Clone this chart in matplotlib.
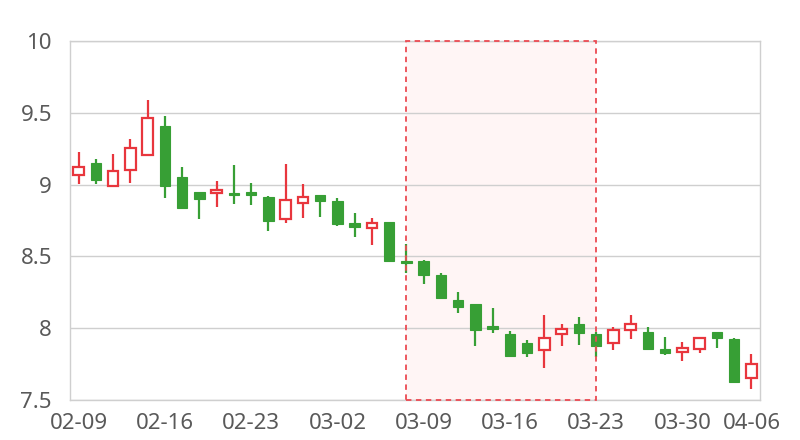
import numpy as np
from matplotlib import pyplot as plt
from matplotlib.patches import Rectangle

# Datas (pregões) e valores OHLC
dates = ['02-09', '02-10', '02-11', '02-12', '02-13',
         '02-16', '02-17', '02-18', '02-19', '02-20',
         '02-23', '02-24', '02-25', '02-26', '02-27',
         '03-02', '03-03', '03-04', '03-05', '03-06',
         '03-09', '03-10', '03-11', '03-12', '03-13',
         '03-16', '03-17', '03-18', '03-19', '03-20',
         '03-23', '03-24', '03-25', '03-26', '03-27',
         '03-30', '03-31', '04-01', '04-02', '04-06']

opens = [9.07, 9.148, 8.99, 9.101, 9.204, 9.407, 9.056, 8.947, 8.942, 8.942,
         8.947, 8.917, 8.759, 8.872, 8.931, 8.889, 8.736, 8.701, 8.74, 8.467,
         8.471, 8.369, 8.197, 8.169, 8.018, 7.958, 7.898, 7.85, 7.96, 8.03,
         7.962, 7.9, 7.99, 7.976, 7.856, 7.837, 7.858, 7.976, 7.928, 7.65]
closes = [9.125, 9.03, 9.097, 9.254, 9.465, 8.988, 8.84, 8.90, 8.965, 8.928,
          8.928, 8.747, 8.896, 8.914, 8.889, 8.724, 8.708, 8.736, 8.467, 8.451,
          8.369, 8.207, 8.15, 7.988, 7.997, 7.807, 7.828, 7.935, 7.995, 7.969,
          7.877, 7.986, 8.028, 7.858, 7.826, 7.863, 7.935, 7.93, 7.625, 7.754]
highs = [9.224, 9.18, 9.21, 9.32, 9.59, 9.48, 9.12, 8.947, 9.023, 9.134,
         9.014, 8.924, 9.141, 9.002, 8.931, 8.91, 8.799, 8.77, 8.74, 8.585,
         8.478, 8.382, 8.25, 8.169, 8.141, 7.981, 7.921, 8.092, 8.032, 8.08,
         7.974, 8.011, 8.092, 8.011, 7.942, 7.903, 7.935, 7.976, 7.93, 7.82]
lows = [9.004, 9.005, 8.99, 9.014, 9.2, 8.907, 8.84, 8.757, 8.844, 8.868,
        8.856, 8.676, 8.736, 8.764, 8.775, 8.715, 8.632, 8.58, 8.46, 8.387,
        8.305, 8.2, 8.104, 7.875, 7.965, 7.802, 7.802, 7.722, 7.875, 7.884,
        7.802, 7.845, 7.924, 7.845, 7.816, 7.773, 7.83, 7.865, 7.616, 7.575]

# Intervalo destacado (índices das datas)
hl_start, hl_end = 19, 30

tick_idx = [0, 5, 10, 15, 20, 25, 30, 35, 39]
y_ticks = [7.5, 8, 8.5, 9, 9.5, 10]

red = '#e8363d'
green = '#379f35'
gray_txt = '#595959'
grid_c = '#cfcfcf'

plt.rcParams['font.family'] = ['Noto Sans', 'DejaVu Sans']

fig = plt.figure(figsize = (8, 4.4), dpi = 100)
ax = fig.add_axes([70 / 800, 1 - 400 / 440, 690 / 800, 359 / 440])

x = np.arange(len(dates))
o = np.array(opens)
c = np.array(closes)
up = c >= o

# Área destacada
ax.add_patch(Rectangle((hl_start, 7.5), hl_end - hl_start, 2.5,
                       facecolor = '#fff5f5', edgecolor = 'none', zorder = 0))
ax.add_patch(Rectangle((hl_start, 7.5), hl_end - hl_start, 2.5,
                       facecolor = 'none', edgecolor = '#ec4a52', linewidth = 1.3,
                       linestyle = (0, (3, 2.5)), zorder = 5, clip_on = False))

# Pavios
colors = [red if u else green for u in up]
ax.vlines(x, lows, highs, colors = colors, linewidth = 1.6, zorder = 2)

# Corpos
body_h = np.maximum(np.abs(c - o), 0.012)
bottoms = np.minimum(o, c)
ax.bar(x[up], body_h[up], bottom = bottoms[up], width = 0.62,
       facecolor = 'white', edgecolor = red, linewidth = 1.6, zorder = 3)
ax.bar(x[~up], body_h[~up], bottom = bottoms[~up], width = 0.62,
       facecolor = green, edgecolor = green, linewidth = 0.8, zorder = 3)

ax.set_xlim(-0.5, len(dates) - 0.5)
ax.set_ylim(7.5, 10)
ax.set_xticks(tick_idx)
ax.set_xticklabels([dates[i] for i in tick_idx])
ax.set_yticks(y_ticks)
ax.set_yticklabels(['7.5', '8', '8.5', '9', '9.5', '10'])

ax.yaxis.grid(True, color = grid_c, linewidth = 1)
ax.set_axisbelow(True)
for s in ax.spines.values():
    s.set_color(grid_c)
    s.set_linewidth(1)

ax.tick_params(axis = 'both', length = 0, labelsize = 16, labelcolor = gray_txt)
ax.tick_params(axis = 'y', pad = 13)
ax.tick_params(axis = 'x', pad = 9)

fig.savefig('out.png', dpi = 100)
